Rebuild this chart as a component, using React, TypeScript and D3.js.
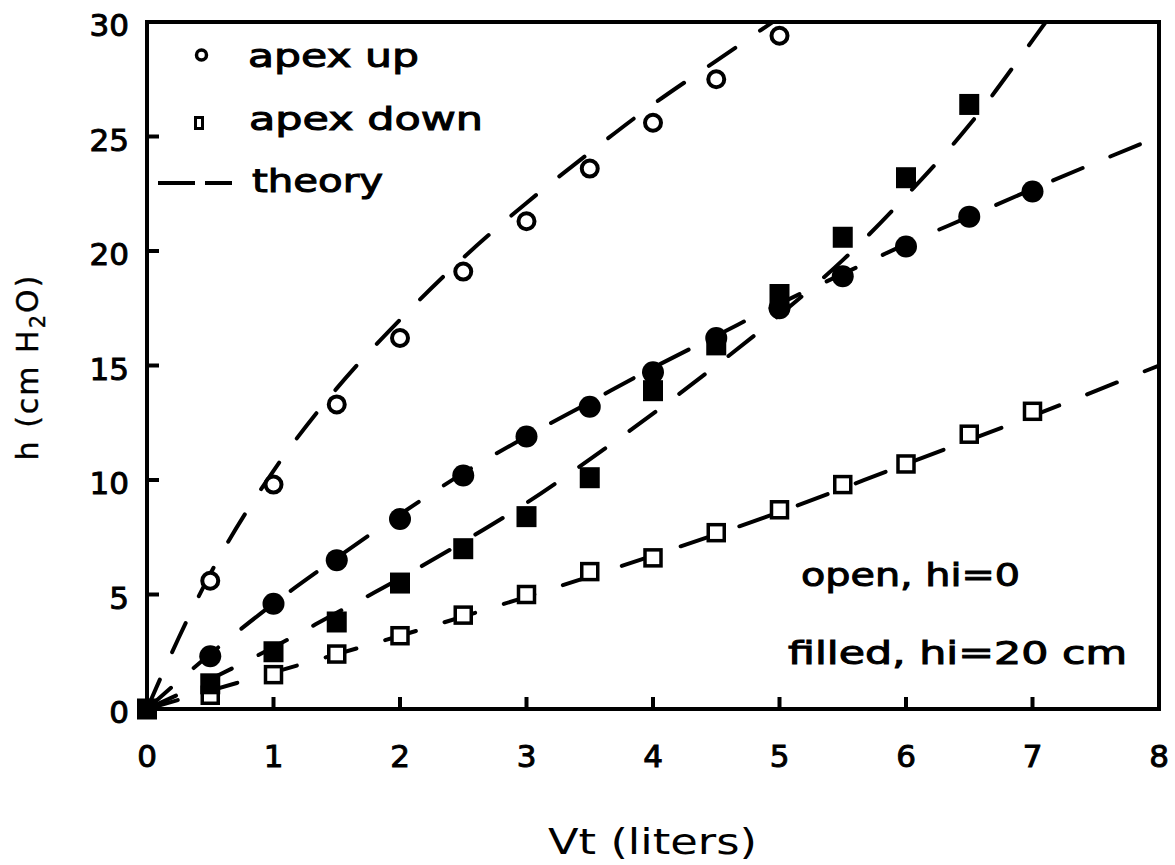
import React from "react";
import * as d3 from "d3";

// ---------- data ----------
const xTickValues = [0, 1, 2, 3, 4, 5, 6, 7, 8];
const yTickValues = [0, 5, 10, 15, 20, 25, 30];

// apex up, open (hi = 0)  -> open circles
const openUpX = [0.5, 1, 1.5, 2, 2.5, 3, 3.5, 4, 4.5, 5];
const openUpY = [5.6, 9.8, 13.3, 16.2, 19.1, 21.3, 23.6, 25.6, 27.5, 29.4];

// apex down, open (hi = 0) -> open squares
const openDownX = [0.5, 1, 1.5, 2, 2.5, 3, 3.5, 4, 4.5, 5, 5.5, 6, 6.5, 7];
const openDownY = [0.6, 1.5, 2.4, 3.2, 4.1, 5.0, 6.0, 6.6, 7.7, 8.7, 9.8, 10.7, 12.0, 13.0];

// apex up, filled (hi = 20 cm) -> filled circles
const filledUpX = [0.5, 1, 1.5, 2, 2.5, 3, 3.5, 4, 4.5, 5, 5.5, 6, 6.5, 7];
const filledUpY = [2.3, 4.6, 6.5, 8.3, 10.2, 11.9, 13.2, 14.7, 16.2, 17.5, 18.9, 20.2, 21.5, 22.6];

// apex down, filled (hi = 20 cm) -> filled squares
const filledDownX = [0, 0.5, 1, 1.5, 2, 2.5, 3, 3.5, 4, 4.5, 5, 5.5, 6, 6.5];
const filledDownY = [0, 1.1, 2.5, 3.8, 5.5, 7.0, 8.4, 10.1, 13.9, 15.9, 18.1, 20.6, 23.2, 26.4];

// theory curves
const theoryOpenUpX = [0, 0.25, 0.5, 1, 1.5, 2, 2.5, 3, 3.5, 4, 4.5, 5, 5.3];
const theoryOpenUpY = [0, 3.1, 5.9, 10.4, 14.0, 17.0, 19.7, 22.1, 24.3, 26.4, 28.3, 30.2, 31.3];

const theoryOpenDownX = [0, 0.5, 1, 2, 3, 4, 5, 6, 7, 8];
const theoryOpenDownY = [0, 0.8, 1.6, 3.2, 4.9, 6.7, 8.6, 10.7, 12.8, 15.0];

const theoryFilledUpX = [0, 0.5, 1, 1.5, 2, 2.5, 3, 3.5, 4, 4.5, 5, 5.5, 6, 6.5, 7, 8];
const theoryFilledUpY = [0, 2.4, 4.6, 6.6, 8.5, 10.3, 11.9, 13.4, 14.9, 16.3, 17.7, 19.0, 20.3, 21.5, 22.7, 25.0];

const theoryFilledDownX = [0, 0.5, 1, 1.5, 2, 2.5, 3, 3.5, 4, 4.5, 5, 5.5, 6, 6.5, 7, 7.3];
const theoryFilledDownY = [0, 1.3, 2.7, 4.2, 5.7, 7.3, 9.0, 10.9, 12.9, 15.0, 17.2, 19.6, 22.4, 25.5, 29.2, 31.5];

const legendLabels = ["apex  up", "apex  down", "theory"];
const annotations = ["open,  hi=0", "filled,  hi=20  cm"];
const xLabel = "Vt  (liters)";

// ---------- layout ----------
const W = 1175;
const H = 865;
const left = 147;
const right = 1159;
const top = 22;
const bottom = 709;
const FONT = "'DejaVu Sans', 'Liberation Sans', sans-serif";

export default function App() {
  const x = d3.scaleLinear().domain([0, 8]).range([left, right]);
  const y = d3.scaleLinear().domain([0, 30]).range([bottom, top]);

  const line = d3
    .line<[number, number]>()
    .x((d) => x(d[0]))
    .y((d) => y(d[1]))
    .curve(d3.curveMonotoneX);

  const zip = (xs: number[], ys: number[]) => xs.map((v, i) => [v, ys[i]] as [number, number]);

  const theories = [
    zip(theoryOpenUpX, theoryOpenUpY),
    zip(theoryOpenDownX, theoryOpenDownY),
    zip(theoryFilledUpX, theoryFilledUpY),
    zip(theoryFilledDownX, theoryFilledDownY),
  ];

  const textBold = { fill: "#000", stroke: "#000", strokeWidth: 1 };

  return (
    <svg
      width={W}
      height={H}
      style={{ position: "absolute", left: 0, top: 0, background: "#fff" }}
      fontFamily={FONT}
    >
      <rect x={0} y={0} width={W} height={H} fill="#fff" />
      <defs>
        <clipPath id="plotClip">
          <rect x={left} y={top} width={right - left} height={bottom - top} />
        </clipPath>
      </defs>

      {/* theory lines */}
      <g clipPath="url(#plotClip)">
        {theories.map((t, i) => (
          <path
            key={i}
            d={line(t) || ""}
            fill="none"
            stroke="#000"
            strokeWidth={4}
            strokeDasharray="32,30"
            strokeLinecap="round"
          />
        ))}
      </g>

      {/* markers */}
      {zip(openDownX, openDownY).map((d, i) => (
        <rect
          key={"os" + i}
          x={x(d[0]) - 8}
          y={y(d[1]) - 8}
          width={16}
          height={16}
          fill="#fff"
          stroke="#000"
          strokeWidth={3.5}
        />
      ))}
      {zip(filledDownX, filledDownY).map((d, i) => (
        <rect
          key={"fs" + i}
          x={x(d[0]) - 10}
          y={y(d[1]) - 10.5}
          width={20}
          height={21}
          fill="#000"
        />
      ))}
      {zip(filledUpX, filledUpY).map((d, i) => (
        <circle key={"fc" + i} cx={x(d[0])} cy={y(d[1])} r={11} fill="#000" />
      ))}
      {zip(openUpX, openUpY).map((d, i) => (
        <circle
          key={"oc" + i}
          cx={x(d[0])}
          cy={y(d[1])}
          r={8}
          fill="#fff"
          stroke="#000"
          strokeWidth={4}
        />
      ))}

      {/* frame */}
      <rect
        x={left}
        y={top}
        width={right - left}
        height={bottom - top}
        fill="none"
        stroke="#000"
        strokeWidth={4}
      />
      {/* ticks */}
      {yTickValues
        .filter((v) => v > 0 && v < 30)
        .map((v) => (
          <line key={"yt" + v} x1={left} x2={left + 12} y1={y(v)} y2={y(v)} stroke="#000" strokeWidth={4} />
        ))}
      {xTickValues
        .filter((v) => v > 0 && v < 8)
        .map((v) => (
          <line key={"xt" + v} x1={x(v)} x2={x(v)} y1={bottom} y2={bottom - 12} stroke="#000" strokeWidth={4} />
        ))}

      {/* tick labels */}
      {yTickValues.map((v) => (
        <text key={"yl" + v} x={129} y={y(v) + 14} textAnchor="end" fontSize={31} {...textBold}>
          {v}
        </text>
      ))}
      {xTickValues.map((v) => (
        <text key={"xl" + v} x={x(v)} y={767} textAnchor="middle" fontSize={31} {...textBold}>
          {v}
        </text>
      ))}

      {/* legend */}
      <circle cx={201.5} cy={55} r={5} fill="#fff" stroke="#000" strokeWidth={3.5} />
      <rect x={195.5} y={117.5} width={7} height={11} fill="#fff" stroke="#000" strokeWidth={3} />
      <line x1={158} x2={195} y1={183} y2={183} stroke="#000" strokeWidth={4} />
      <line x1={205} x2={232} y1={183} y2={183} stroke="#000" strokeWidth={4} />
      <text x={248} y={67} fontSize={32} textLength={171} lengthAdjust="spacingAndGlyphs" {...textBold}>
        {legendLabels[0]}
      </text>
      <text x={249} y={130} fontSize={32} textLength={234} lengthAdjust="spacingAndGlyphs" {...textBold}>
        {legendLabels[1]}
      </text>
      <text x={252} y={192} fontSize={32} textLength={131} lengthAdjust="spacingAndGlyphs" {...textBold}>
        {legendLabels[2]}
      </text>

      {/* annotations */}
      <text x={801} y={586} fontSize={32} textLength={219} lengthAdjust="spacingAndGlyphs" {...textBold}>
        {annotations[0]}
      </text>
      <text x={788} y={664} fontSize={32} textLength={339} lengthAdjust="spacingAndGlyphs" {...textBold}>
        {annotations[1]}
      </text>

      {/* axis titles */}
      <text x={548} y={854} fontSize={36} textLength={209} lengthAdjust="spacingAndGlyphs" fill="#000">
        {xLabel}
      </text>
      <text
        transform={`translate(38, 367) rotate(-90)`}
        textAnchor="middle"
        fontSize={30}
        letterSpacing={2}
        fill="#000"
        stroke="#000"
        strokeWidth={0.4}
      >
        h (cm H
        <tspan fontSize={21} dy={7}>2</tspan>
        <tspan dy={-7}>O)</tspan>
      </text>
    </svg>
  );
}
